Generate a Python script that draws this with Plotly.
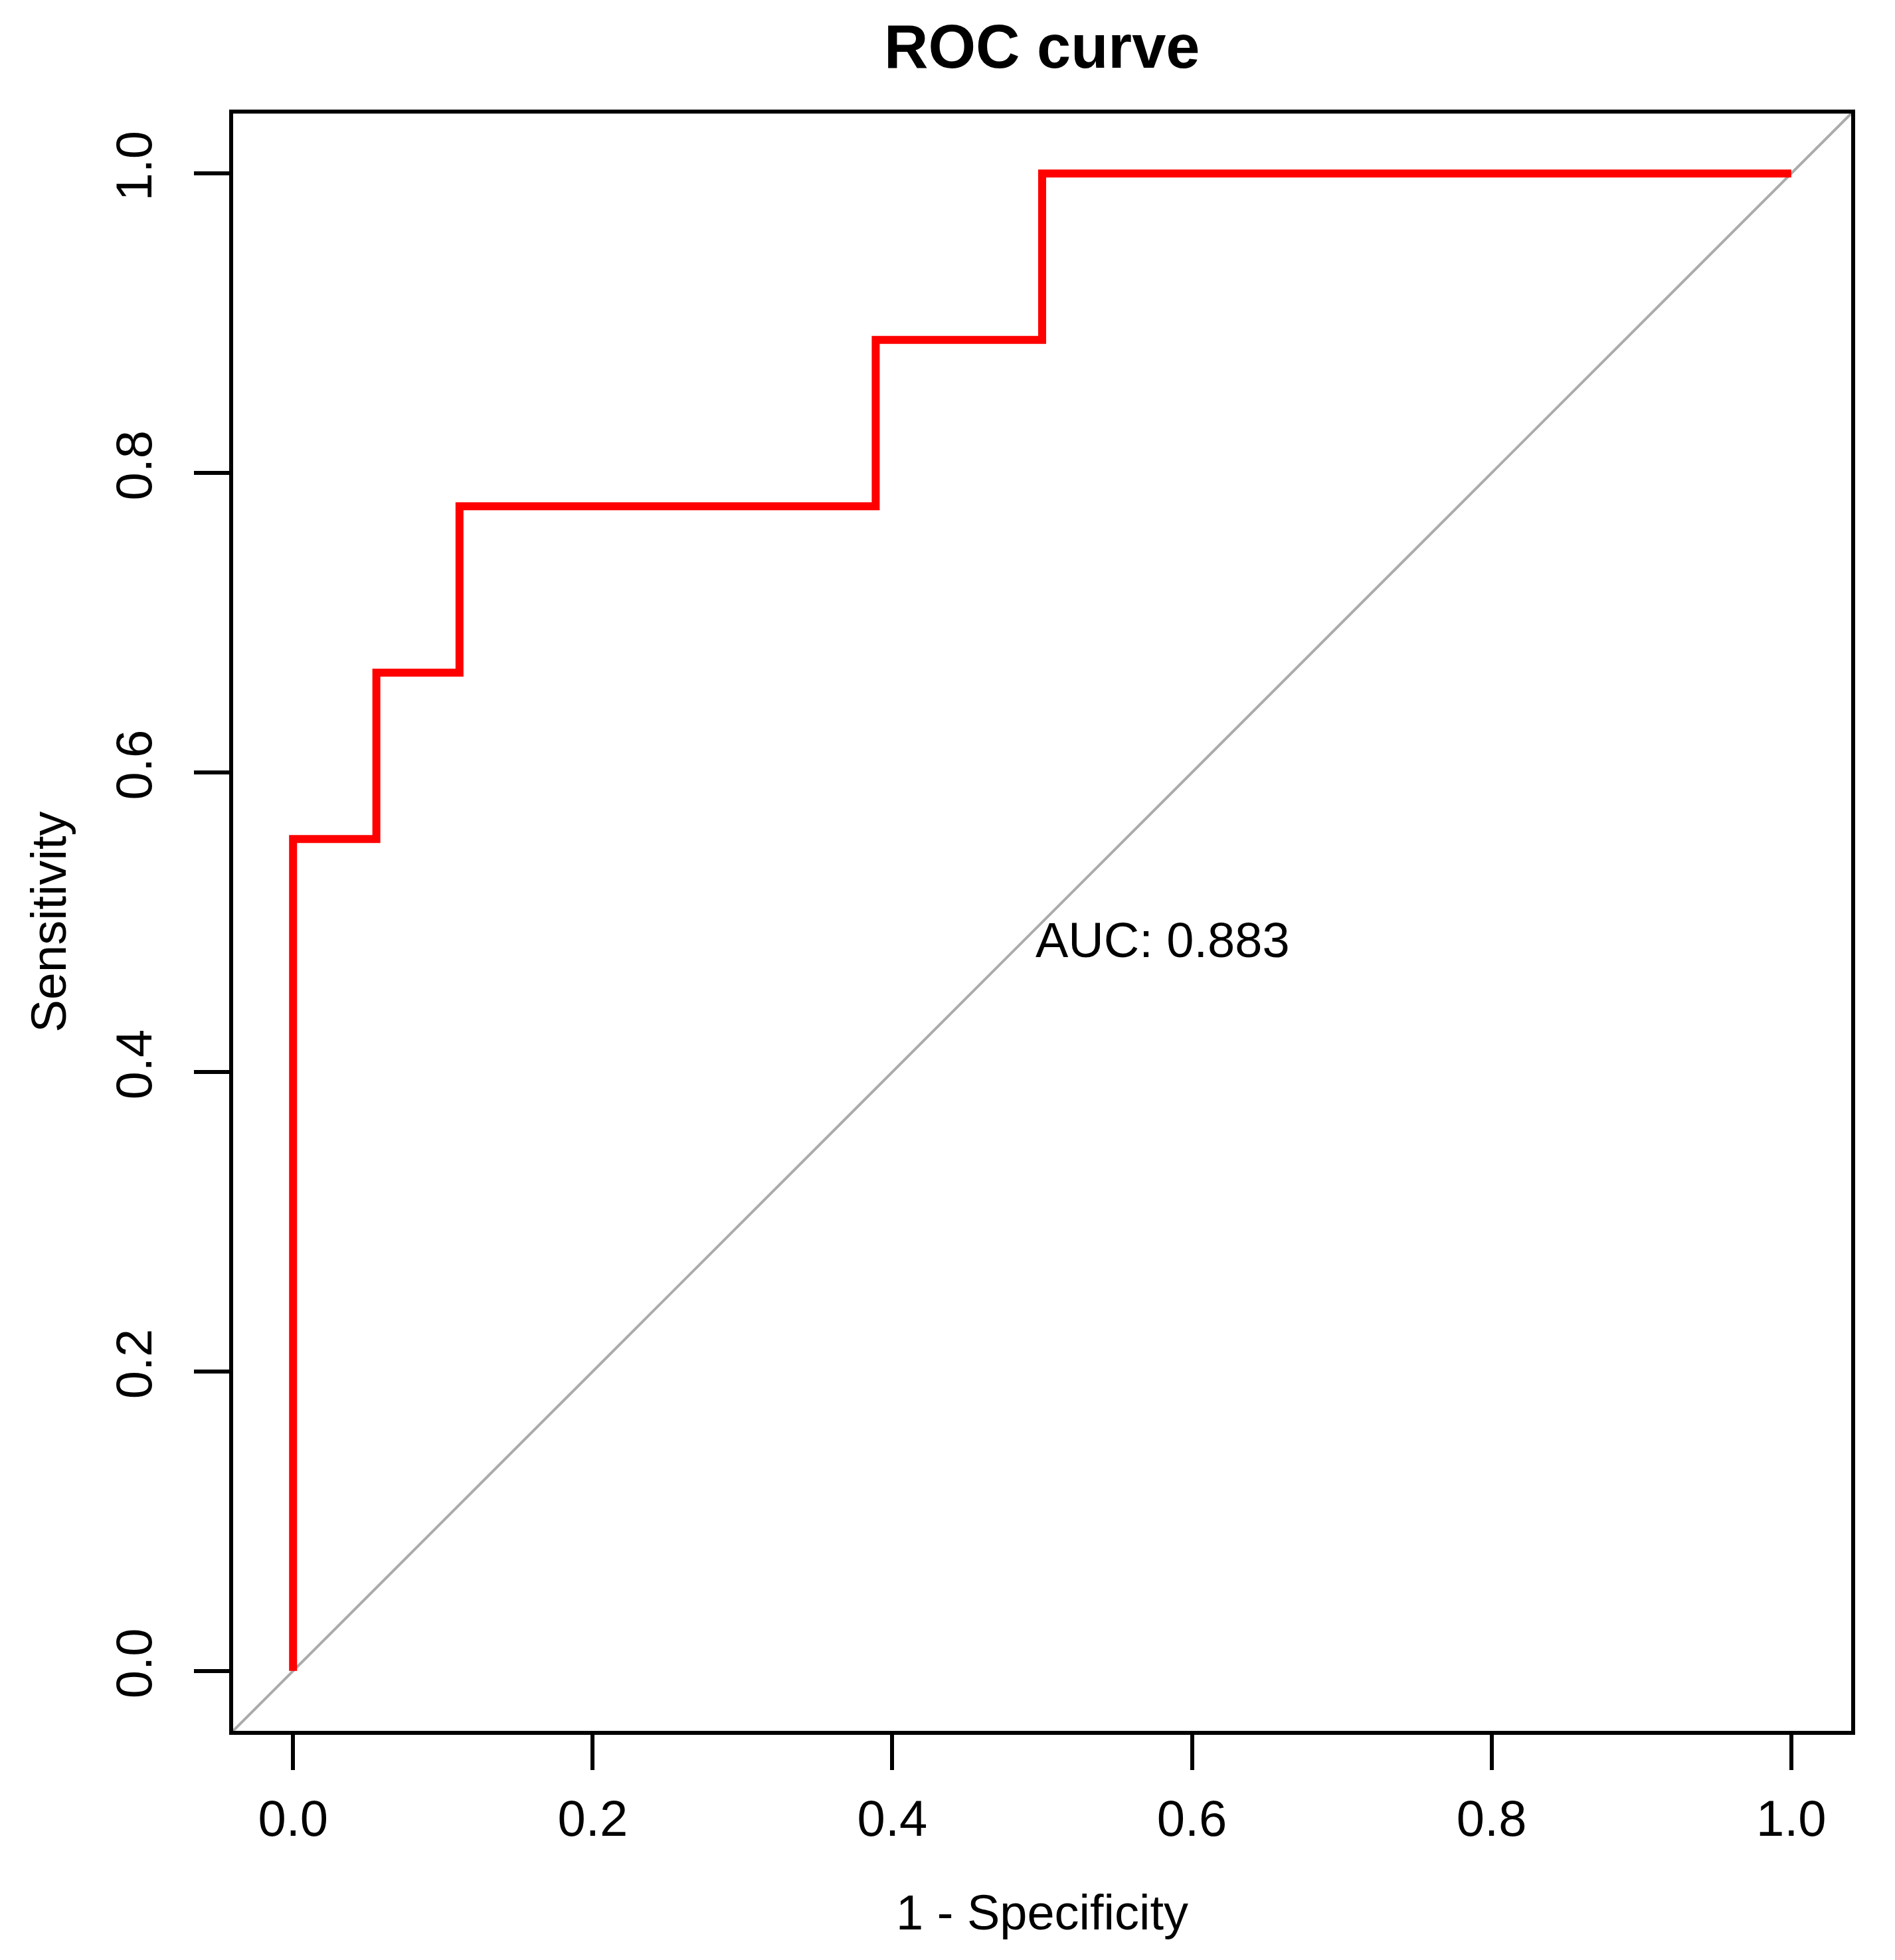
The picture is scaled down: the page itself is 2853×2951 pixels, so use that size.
import plotly.graph_objects as go

# ROC points (1 - specificity, sensitivity)
fpr = [0.0, 0.0, 0.0556, 0.0556, 0.1111, 0.1111, 0.3889, 0.3889, 0.5, 0.5, 1.0]
tpr = [0.0, 0.5556, 0.5556, 0.6667, 0.6667, 0.7778, 0.7778, 0.8889, 0.8889, 1.0, 1.0]
auc = 0.883

tick_vals = [0.0, 0.2, 0.4, 0.6, 0.8, 1.0]
tick_text = ["0.0", "0.2", "0.4", "0.6", "0.8", "1.0"]
axis_range = [-0.04, 1.04]

W, H = 2853, 2951
fnt = "Liberation Sans, Arial, sans-serif"
fs = 76

fig = go.Figure()

# gray chance diagonal across the whole box
fig.add_shape(type="line", xref="x domain", yref="y domain",
              x0=0, y0=0, x1=1, y1=1,
              line=dict(color="#ABABAB", width=4), layer="below")

fig.add_trace(go.Scatter(x=fpr, y=tpr, mode="lines",
                         line=dict(color="#FF0000", width=12),
                         hoverinfo="skip", showlegend=False))

fig.add_annotation(x=0.5, y=0.5, xref="x", yref="y",
                   text="AUC: %.3f" % auc, showarrow=False,
                   xanchor="left", yanchor="top", yshift=17, xshift=-12,
                   font=dict(family=fnt, size=74, color="black"))

axis_style = dict(range=axis_range, tickvals=tick_vals, ticktext=tick_text,
                  showgrid=False, zeroline=False, showline=True, mirror=True,
                  linecolor="black", linewidth=6, ticks="outside", ticklen=53,
                  tickwidth=6, tickcolor="black",
                  tickfont=dict(family=fnt, size=fs, color="black"))

fig.update_xaxes(**axis_style, ticklabelstandoff=8)
fig.update_yaxes(**axis_style, tickangle=-90, ticklabelstandoff=34)

# axis titles and main title
fig.add_annotation(x=0.5, y=0, xref="paper", yref="paper", text="1 - Specificity",
                   showarrow=False, yanchor="middle", yshift=-273,
                   font=dict(family=fnt, size=74, color="black"))
fig.add_annotation(x=0, y=0.5, xref="paper", yref="paper", text="Sensitivity",
                   showarrow=False, xanchor="center", xshift=-278, textangle=-90,
                   font=dict(family=fnt, size=74, color="black"))
fig.add_annotation(x=0.5, y=1, xref="paper", yref="paper", text="<b>ROC curve</b>",
                   showarrow=False, yanchor="middle", yshift=101,
                   font=dict(family=fnt, size=92, color="black"))

fig.update_layout(width=W, height=H, plot_bgcolor="white", paper_bgcolor="white",
                  margin=dict(l=343, r=74, t=163, b=353, autoexpand=False))

fig.write_html("out.html")
